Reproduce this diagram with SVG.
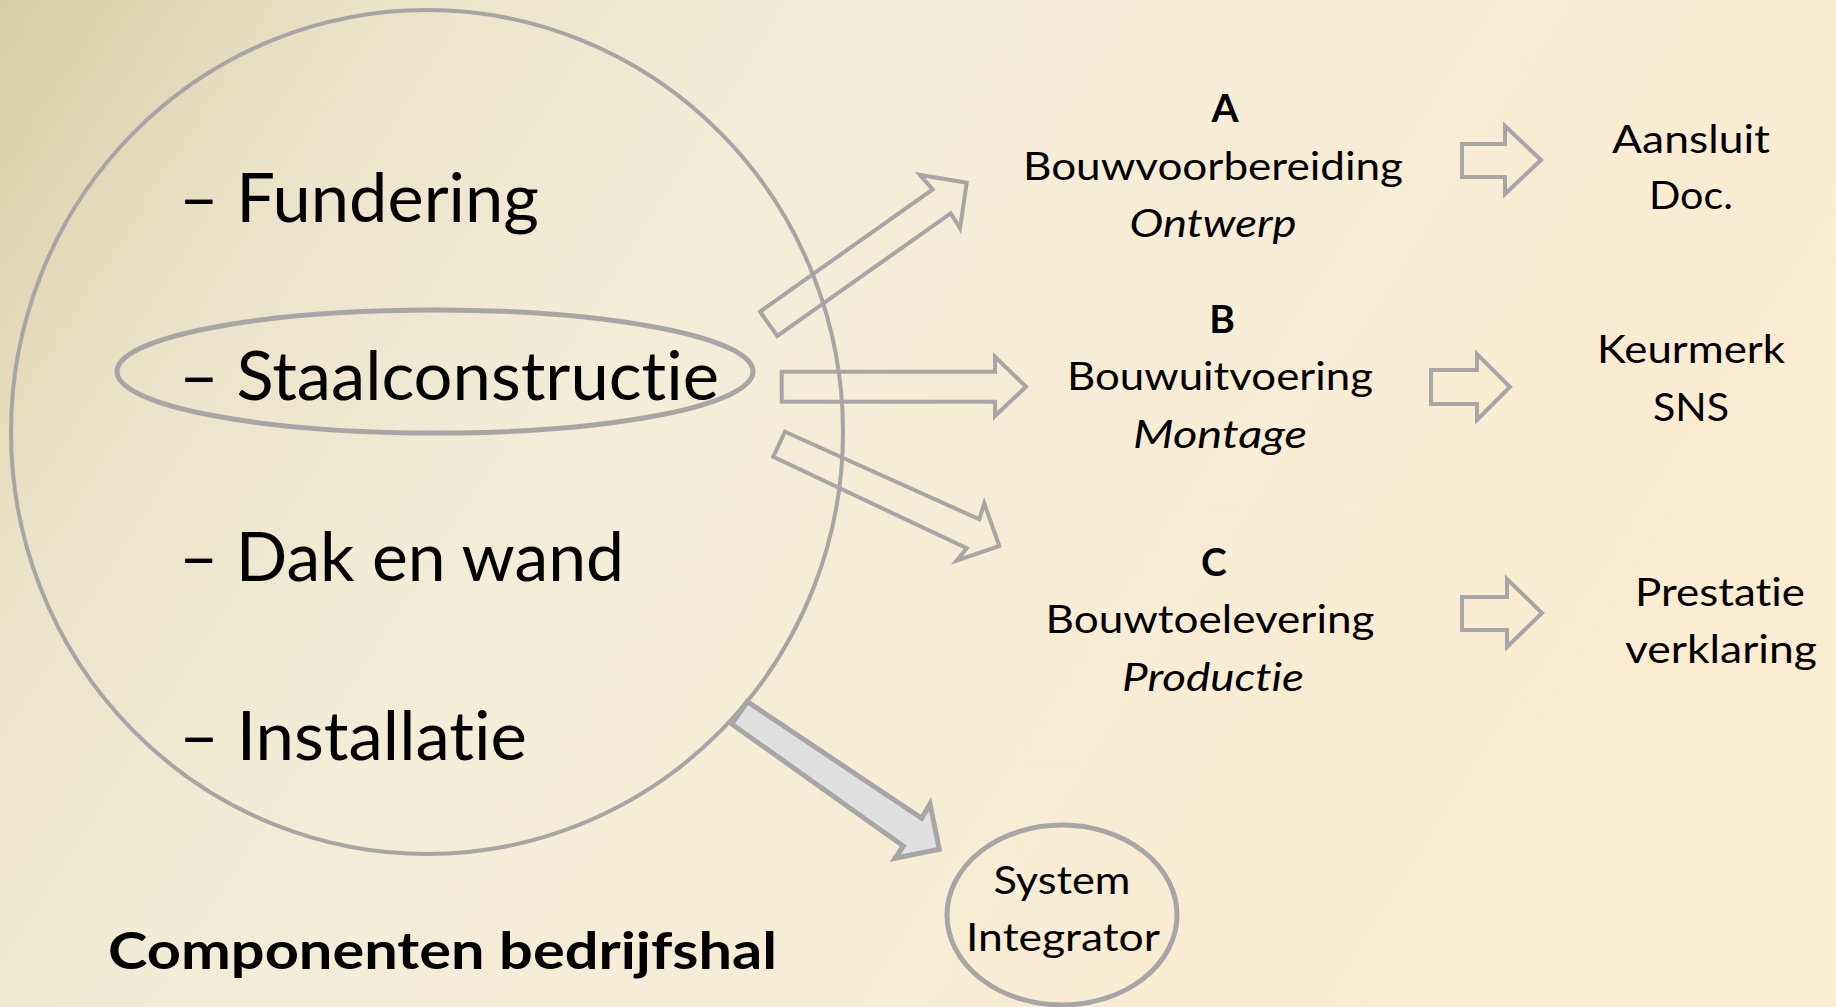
<svg xmlns="http://www.w3.org/2000/svg" width="1836" height="1007" viewBox="0 0 1836 1007">
  <defs>
    <linearGradient id="bg" x1="0" y1="0" x2="1" y2="0.35">
      <stop offset="0" stop-color="#d9cba4"/>
      <stop offset="0.18" stop-color="#ebe3c8"/>
      <stop offset="0.4" stop-color="#f3edd8"/>
      <stop offset="1" stop-color="#fbecd2"/>
    </linearGradient>
  </defs>
  <style>
    .ring { fill: none; stroke: #a6a6a6; }
    .arr { fill: none; stroke: #a6a6a6; stroke-width: 4; stroke-linejoin: miter; }
    .arrf { fill: #e0e0e0; stroke: #a6a6a6; stroke-width: 5; stroke-linejoin: miter; }
    text { font-family: Lato, "Open Sans", "Liberation Sans", sans-serif; fill: #000; font-variant-ligatures: none; font-feature-settings: "liga" 0, "clig" 0, "dlig" 0; }
    .big { font-size: 67px; }
    .lbl { font-size: 39px; text-anchor: middle; }
    .b { font-weight: bold; }
    .i { font-style: italic; }
    .title { font-size: 51px; font-weight: bold; }
  </style>
  <rect x="0" y="0" width="1836" height="1007" fill="url(#bg)"/>

  <g id="components">
    <ellipse class="ring" cx="427" cy="432" rx="416" ry="422" stroke-width="4"/>
    <text class="big" x="179" y="222" textLength="360" lengthAdjust="spacingAndGlyphs">– Fundering</text>
    <text class="big" x="179" y="581" textLength="445" lengthAdjust="spacingAndGlyphs">– Dak en wand</text>
    <text class="big" x="179" y="760" textLength="348" lengthAdjust="spacingAndGlyphs">– Installatie</text>
  </g>
  <g id="staalconstructie">
    <ellipse class="ring" cx="435" cy="371.5" rx="318" ry="61.5" stroke-width="5"/>
    <text class="big" x="179" y="400" textLength="540" lengthAdjust="spacingAndGlyphs">– Staalconstructie</text>
  </g>
  <g id="title">
    <text class="title" x="108" y="969" textLength="669" lengthAdjust="spacingAndGlyphs">Componenten bedrijfshal</text>
  </g>

  <g id="node-a">
    <text class="lbl b" x="1225" y="122">A</text>
    <text class="lbl" x="1213" y="180" textLength="380" lengthAdjust="spacingAndGlyphs">Bouwvoorbereiding</text>
    <text class="lbl i" x="1213" y="237" textLength="167" lengthAdjust="spacingAndGlyphs">Ontwerp</text>
  </g>
  <g id="node-b">
    <text class="lbl b" x="1222" y="333">B</text>
    <text class="lbl" x="1220" y="390" textLength="306" lengthAdjust="spacingAndGlyphs">Bouwuitvoering</text>
    <text class="lbl i" x="1220" y="448" textLength="174" lengthAdjust="spacingAndGlyphs">Montage</text>
  </g>
  <g id="node-c">
    <text class="lbl b" x="1214" y="576">C</text>
    <text class="lbl" x="1210" y="633" textLength="329" lengthAdjust="spacingAndGlyphs">Bouwtoelevering</text>
    <text class="lbl i" x="1213" y="691" textLength="182" lengthAdjust="spacingAndGlyphs">Productie</text>
  </g>
  <g id="out-a">
    <text class="lbl" x="1691" y="153" textLength="158" lengthAdjust="spacingAndGlyphs">Aansluit</text>
    <text class="lbl" x="1691" y="209" textLength="84" lengthAdjust="spacingAndGlyphs">Doc.</text>
  </g>
  <g id="out-b">
    <text class="lbl" x="1691" y="363" textLength="188" lengthAdjust="spacingAndGlyphs">Keurmerk</text>
    <text class="lbl" x="1691" y="421" textLength="76" lengthAdjust="spacingAndGlyphs">SNS</text>
  </g>
  <g id="out-c">
    <text class="lbl" x="1720" y="606" textLength="170" lengthAdjust="spacingAndGlyphs">Prestatie</text>
    <text class="lbl" x="1721" y="663" textLength="192" lengthAdjust="spacingAndGlyphs">verklaring</text>
  </g>
  <g id="system-integrator">
    <ellipse class="ring" cx="1062" cy="915" rx="115" ry="90" stroke-width="5"/>
    <text class="lbl" x="1062" y="894" textLength="137" lengthAdjust="spacingAndGlyphs">System</text>
    <text class="lbl" x="1063" y="951" textLength="194" lengthAdjust="spacingAndGlyphs">Integrator</text>
  </g>

  <g id="connectors">
    <polygon class="arr" points="760,311.7 932.7,189.3 920,175 966.7,182.7 960,228.3 950.7,213.3 777.3,336"/>
    <polygon class="arr" points="781.7,371.7 995,371.7 995,356.7 1026,386.7 995,416 995,401.7 781.7,401.7"/>
    <polygon class="arr" points="785,431.7 979.3,519.3 984.3,503.3 999.3,546 956.7,560.7 966.7,548.3 773.3,456.7"/>
    <polygon class="arrf" points="747.3,701.7 921.7,818.3 930,804 939.3,849.3 895,858.3 903.3,846 731.7,724"/>
    <polygon class="arr" points="1462,144 1505,144 1505,126 1541,160 1505,194 1505,177 1462,177"/>
    <polygon class="arr" points="1431,370 1477,370 1477,354 1510,387 1477,420 1477,404 1431,404"/>
    <polygon class="arr" points="1462,597 1507,597 1507,579 1542,613 1507,647 1507,630 1462,630"/>
  </g>
</svg>
